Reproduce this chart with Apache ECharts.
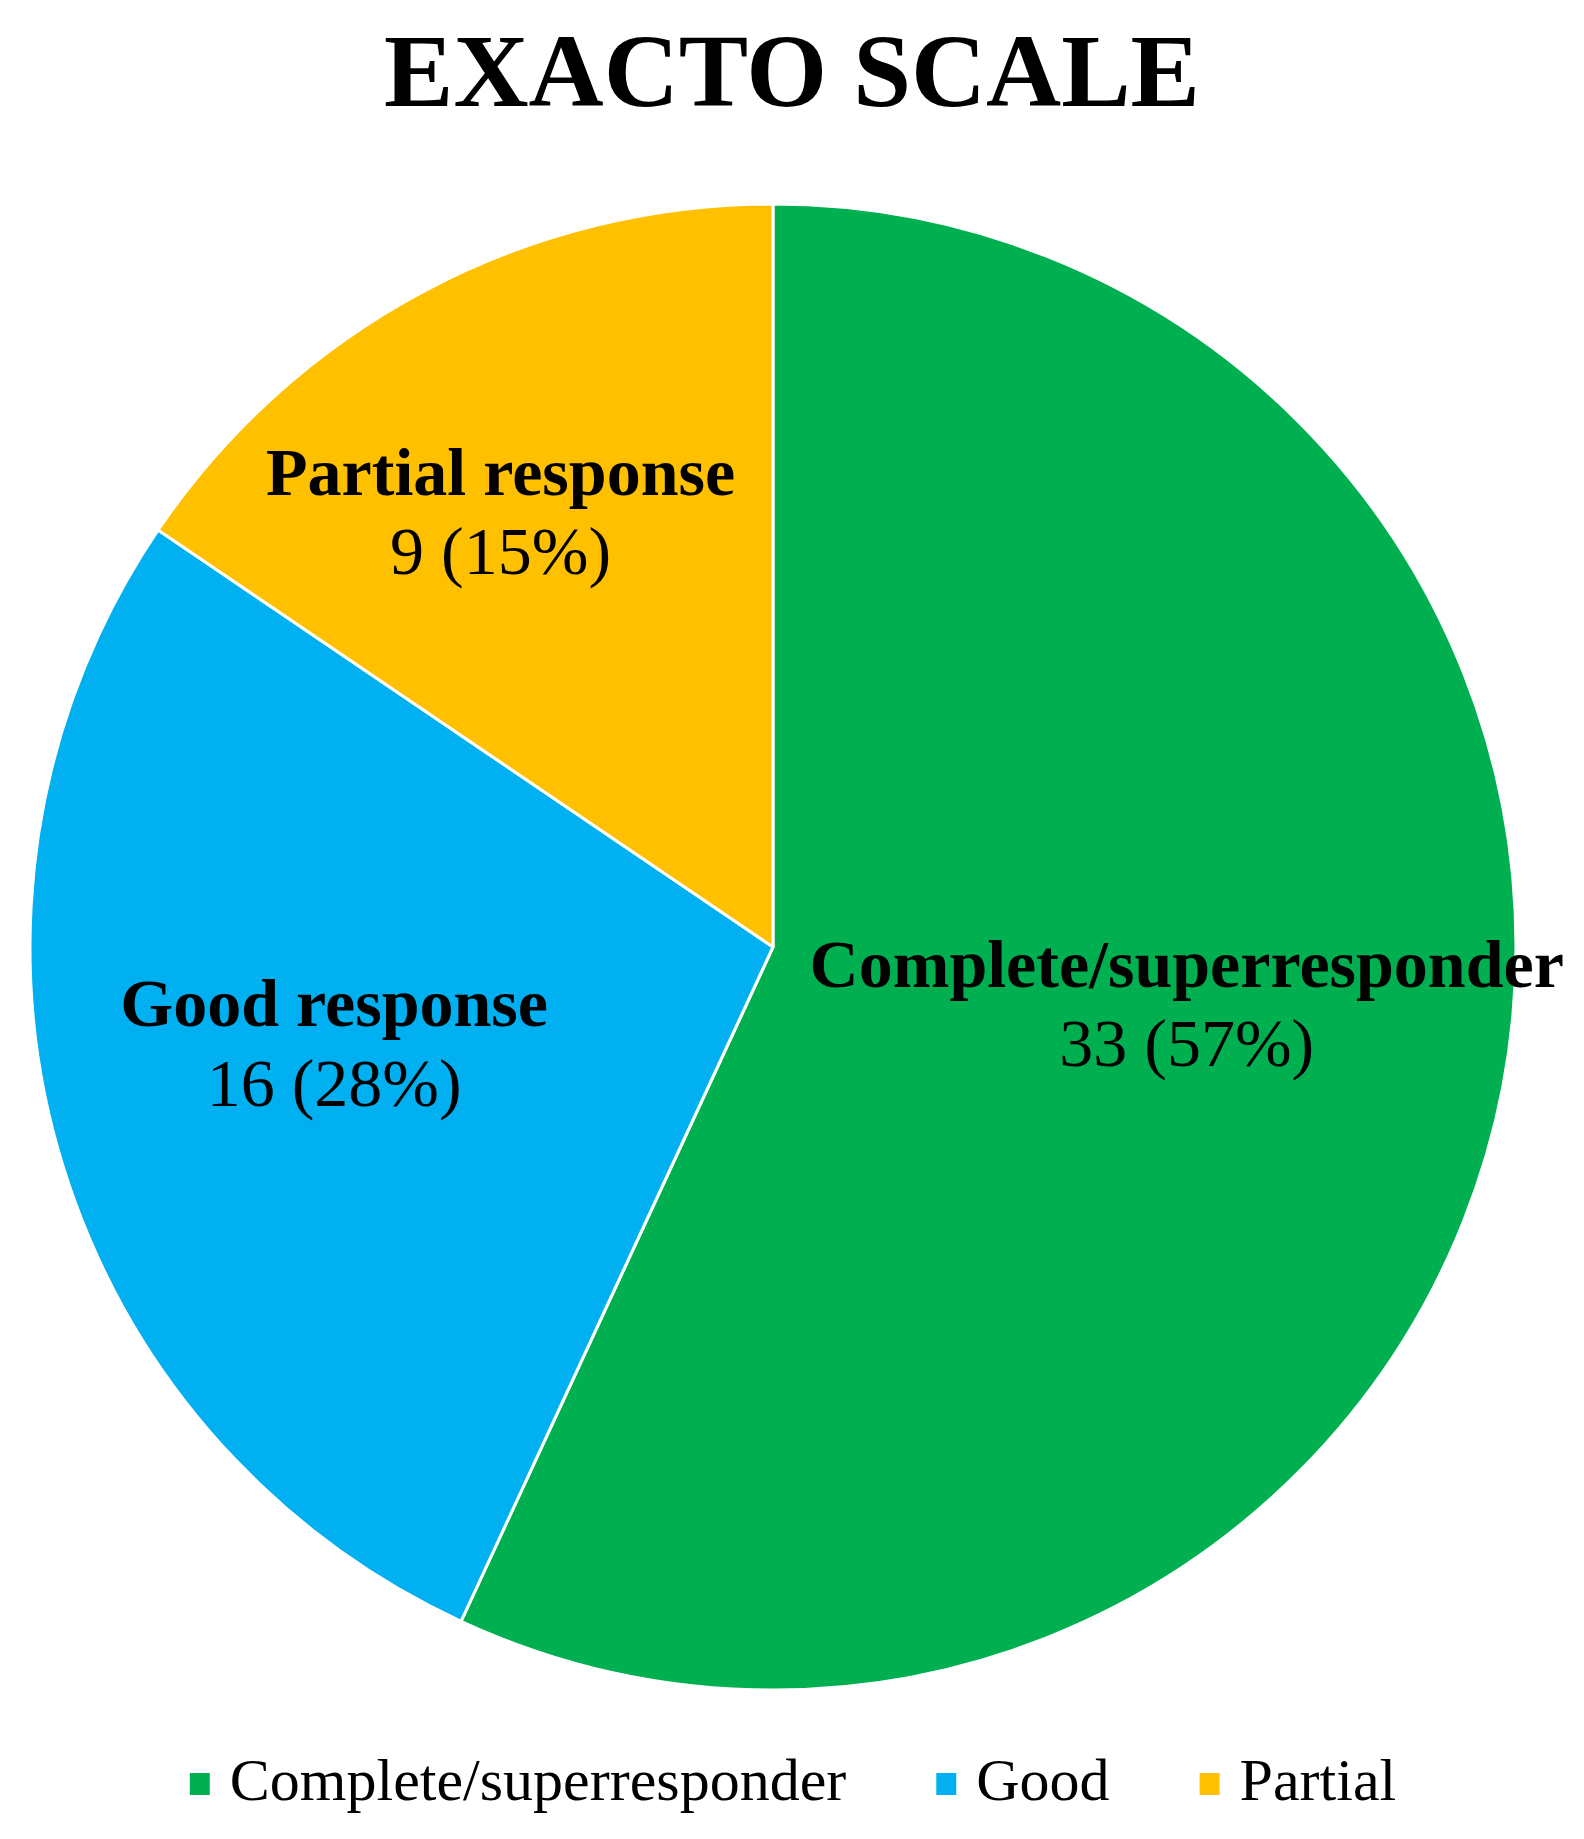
<!DOCTYPE html>
<html>
<head>
<meta charset="utf-8">
<script src="https://cdn.jsdelivr.net/npm/echarts@6/dist/echarts.min.js"></script>
<style>
  html, body { margin: 0; padding: 0; background: #fff; }
  #chart { width: 1584px; height: 1839px; }
</style>
</head>
<body>
<div id="chart"></div>
<script>
  var titleText = 'EXACTO SCALE';
  var categories = ['Complete/superresponder', 'Good', 'Partial'];
  var labelNames = ['Complete/superresponder', 'Good response', 'Partial response'];
  var counts = [33, 16, 9];
  var colors = ['#00B050', '#00B0F0', '#FFC000'];
  // label nudges so they sit where the original (Excel best-fit) put them
  var labelOffsets = [[48, -19], [-78, 1], [-97, -99]];

  var serif = '"Liberation Serif", "Times New Roman", serif';

  var pieData = categories.map(function (name, i) {
    return {
      name: name,
      value: counts[i],
      itemStyle: { color: colors[i] },
      label: { offset: labelOffsets[i] }
    };
  });

  var chart = echarts.init(document.getElementById('chart'));
  chart.setOption({
    backgroundColor: '#fff',
    animation: false,
    title: {
      text: titleText,
      left: 'center',
      top: 22,
      textStyle: {
        fontFamily: serif,
        fontSize: 104,
        fontWeight: 'bold',
        lineHeight: 104,
        color: '#000'
      }
    },
    legend: {
      data: categories,
      left: 'center',
      top: 1749,
      icon: 'rect',
      itemWidth: 22,
      itemHeight: 24,
      itemGap: 88,
      textStyle: {
        fontFamily: serif,
        fontSize: 60,
        lineHeight: 60,
        color: '#000',
        padding: [0, 0, 0, 14]
      }
    },
    series: [{
      type: 'pie',
      center: [773, 947],
      radius: [0, 743],
      startAngle: 90,
      clockwise: true,
      percentPrecision: 0,
      itemStyle: { borderColor: '#fff', borderWidth: 3 },
      label: {
        show: true,
        position: 'inside',
        formatter: function (p) {
          return '{n|' + labelNames[p.dataIndex] + '}\n{v|' + p.value + ' (' + p.percent + '%)}';
        },
        rich: {
          n: { fontFamily: serif, fontSize: 68, fontWeight: 'bold', color: '#000', lineHeight: 79 },
          v: { fontFamily: serif, fontSize: 68, color: '#000', lineHeight: 79 }
        }
      },
      labelLine: { show: false },
      emphasis: { disabled: true },
      data: pieData
    }]
  });
</script>
</body>
</html>
